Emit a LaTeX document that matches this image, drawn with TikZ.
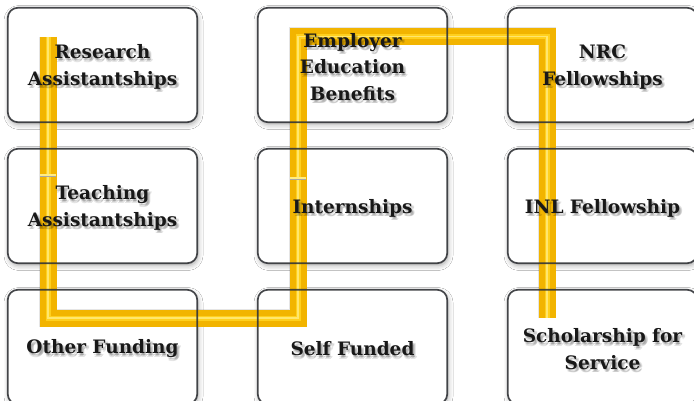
\documentclass[tikz,border=0pt]{standalone}
\usepackage{fontspec}
\setmainfont{DejaVu Serif}
\usetikzlibrary{shadows.blur}
\definecolor{pipegold}{RGB}{242,180,0}
\definecolor{pipelight}{RGB}{255,208,30}
\definecolor{pipeshine}{RGB}{255,236,130}
\definecolor{boxline}{RGB}{50,52,56}
\definecolor{txt}{RGB}{24,24,24}
\tikzset{
  boxbg/.style={fill=white, minimum width=189pt, minimum height=114pt, rounded corners=10pt, inner sep=0pt,
    blur shadow={shadow xshift=1pt, shadow yshift=-2.5pt, shadow blur radius=5pt, shadow opacity=35}},
  boxrim/.style={draw=boxline, line width=1.7pt, rounded corners=10pt, draw opacity=0.9},
  lbl/.style={font=\bfseries\fontsize{18.5}{26.5}\selectfont, align=center, text=txt, inner sep=0pt, yshift=-2pt},
  lblsh/.style={lbl, text=black, text opacity=0.10},
  pipeshadow/.style={draw=black, draw opacity=0.10, line width=18pt, line join=miter},
  pipebase/.style={draw=pipegold, line width=17pt, line join=miter},
  pipemid/.style={draw=pipelight, line width=5pt, line join=miter},
  pipeglint/.style={draw=pipeshine, line width=1.2pt, line join=miter, draw opacity=0.8},
}
\newcommand\mylbl[3]{%
  \foreach \dx/\dy in {1/-1.5,2.5/-3,1.5/-3.5,3/-2}{\node[lblsh, xshift=\dx pt, yshift=\dy pt] at (#1) {#3};}%
  \node[lbl] (#2) at (#1) {#3};}
\begin{document}
\begin{tikzpicture}[x=1pt,y=-1pt]
\useasboundingbox (0,0) rectangle (694,401);
\fill[white] (0,0) rectangle (694,401);
% boxes (background)
\node[boxbg] (ra) at (102.5,65) {};
\node[boxbg] (ee) at (352.5,65) {};
\node[boxbg] (nrc) at (602.5,65) {};
\node[boxbg] (ta) at (102.5,206) {};
\node[boxbg] (in) at (352.5,206) {};
\node[boxbg] (inl) at (602.5,206) {};
\node[boxbg] (of) at (102.5,347) {};
\node[boxbg] (sf) at (352.5,347) {};
\node[boxbg] (ss) at (602.5,347) {};
% pipe route
\coordinate (p1) at (48,37);
\coordinate (p2) at (48,318);
\coordinate (p3) at (298,318);
\coordinate (p4) at (298,36.5);
\coordinate (p5) at (547,36.5);
\coordinate (p6) at (547,318);
\draw[pipeshadow, xshift=1.5pt, yshift=-2pt] (p1) -- (p2) -- (p3) -- (p4) -- (p5) -- (p6);
\draw[pipebase] (p1) -- (p2) -- (p3) -- (p4) -- (p5) -- (p6);
\draw[pipemid] (p1) -- (p2) -- (p3) -- (p4) -- (p5) -- (p6);
\draw[pipeglint] (p1) -- (p2) -- (p3) -- (p4) -- (p5) -- (p6);
% pipe joints
\coordinate (j1) at (48,175);
\coordinate (j2) at (298,178);
\foreach \j in {j1,j2}{
  \draw[pipeshine, line width=2pt] ([xshift=-8pt]\j) -- ([xshift=8pt]\j);
  \draw[black!35, line width=0.8pt] ([xshift=-8pt,yshift=-1.4pt]\j) -- ([xshift=8pt,yshift=-1.4pt]\j);
}
% box rims
\foreach \b in {ra,ee,nrc,ta,in,inl,of,sf,ss}{
  \draw[boxrim] (\b.south west) rectangle (\b.north east);
}
% labels
\mylbl{ra}{tra}{Research\\Assistantships}
\mylbl{ee}{tee}{Employer\\Education\\Benefits}
\mylbl{nrc}{tnrc}{NRC\\Fellowships}
\mylbl{ta}{tta}{Teaching\\Assistantships}
\mylbl{in}{tin}{Internships}
\mylbl{inl}{tinl}{INL Fellowship}
\mylbl{of}{tof}{Other Funding}
\mylbl{sf}{tsf}{Self Funded}
\mylbl{ss}{tss}{Scholarship for\\Service}
\end{tikzpicture}
\end{document}
